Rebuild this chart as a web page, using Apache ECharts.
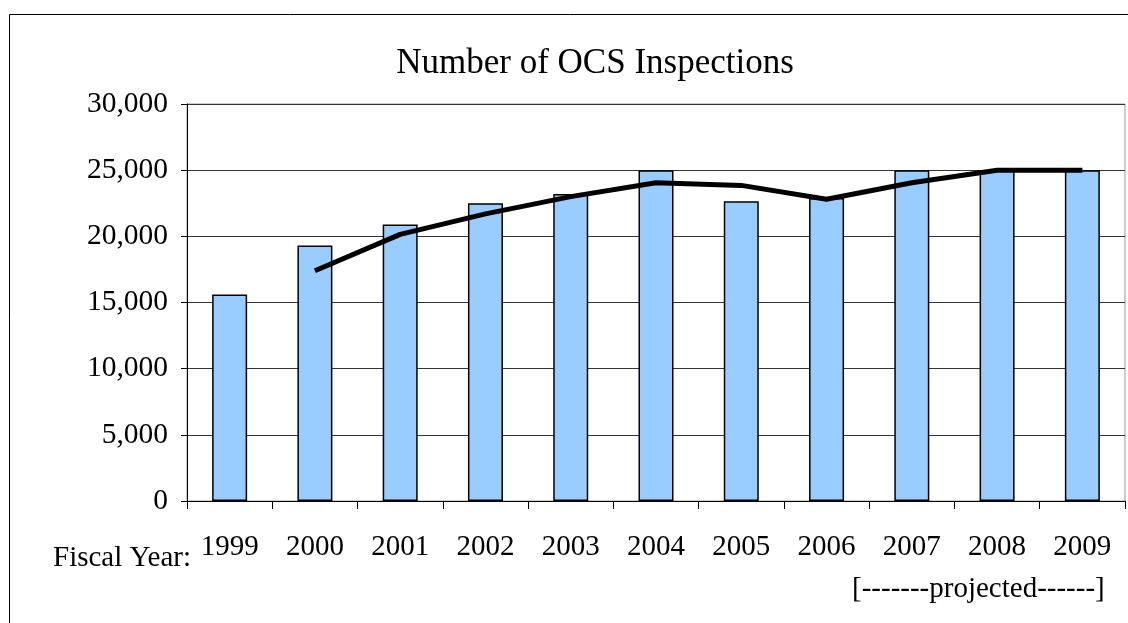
<!DOCTYPE html>
<html>
<head>
<meta charset="utf-8">
<script src="https://cdn.jsdelivr.net/npm/echarts@6/dist/echarts.min.js"></script>
<style>
  html, body { margin: 0; padding: 0; background: #fff; }
  #main { width: 1128px; height: 623px; }
</style>
</head>
<body>
<div id="main"></div>
<script>
// 财年
const years = ['1999', '2000', '2001', '2002', '2003', '2004', '2005', '2006', '2007', '2008', '2009']
// 检查次数（柱）
const inspections = [15600, 19300, 20900, 22500, 23200, 25000, 22650, 22900, 25000, 25000, 25000]
// 趋势线，1999 无值
const trend = ['-', 17400, 20150, 21700, 23000, 24050, 23850, 22800, 24050, 25000, 25000]
// y 轴刻度
const yTicks = [0, 5000, 10000, 15000, 20000, 25000, 30000]

const font = 'Liberation Serif, Times New Roman, serif'
const chart = echarts.init(document.getElementById('main'))

chart.setOption({
  animation: false,
  backgroundColor: '#fff',
  title: {
    text: 'Number of OCS Inspections',
    left: 590,
    textAlign: 'center',
    top: 41,
    textStyle: { fontFamily: font, fontSize: 35, fontWeight: 'normal', color: '#000' }
  },
  grid: {
    left: 187,
    right: 3,
    top: 104,
    bottom: 122,
    show: true,
    borderColor: '#999',
    borderWidth: 1
  },
  xAxis: {
    type: 'category',
    data: years,
    boundaryGap: true,
    axisLine: { lineStyle: { color: '#000', width: 1 } },
    axisTick: { show: true, length: 8, lineStyle: { color: '#000' } },
    axisLabel: { fontFamily: font, fontSize: 29, color: '#000', margin: 32 }
  },
  yAxis: {
    type: 'value',
    min: yTicks[0],
    max: yTicks[yTicks.length - 1],
    interval: 5000,
    axisLine: { show: true, lineStyle: { color: '#000', width: 1 } },
    axisTick: { show: true, length: 6, lineStyle: { color: '#000' } },
    axisLabel: {
      fontFamily: font,
      fontSize: 29.5,
      color: '#000',
      margin: 19,
      formatter: v => v.toLocaleString('en-US')
    },
    splitLine: { lineStyle: { color: '#333', width: 1 } }
  },
  series: [{
    type: 'bar',
    data: inspections,
    barWidth: 35,
    itemStyle: { color: '#99CCFF', borderColor: '#000', borderWidth: 1.5 }
  }, {
    type: 'line',
    data: trend,
    symbol: 'none',
    z: 5,
    lineStyle: { color: '#000', width: 5 }
  }],
  graphic: [{
    type: 'rect',
    shape: { x: 9.5, y: 14.5, width: 2000, height: 2000 },
    style: { fill: 'none', stroke: '#000', lineWidth: 1 },
    silent: true
  }, {
    type: 'text',
    left: 53,
    top: 544,
    style: { text: 'Fiscal Year:', font: '29px ' + font, fill: '#000' }
  }, {
    type: 'text',
    left: 852,
    top: 575,
    style: { text: '[-------projected------]', font: '29px ' + font, fill: '#000' }
  }]
})
</script>
</body>
</html>
